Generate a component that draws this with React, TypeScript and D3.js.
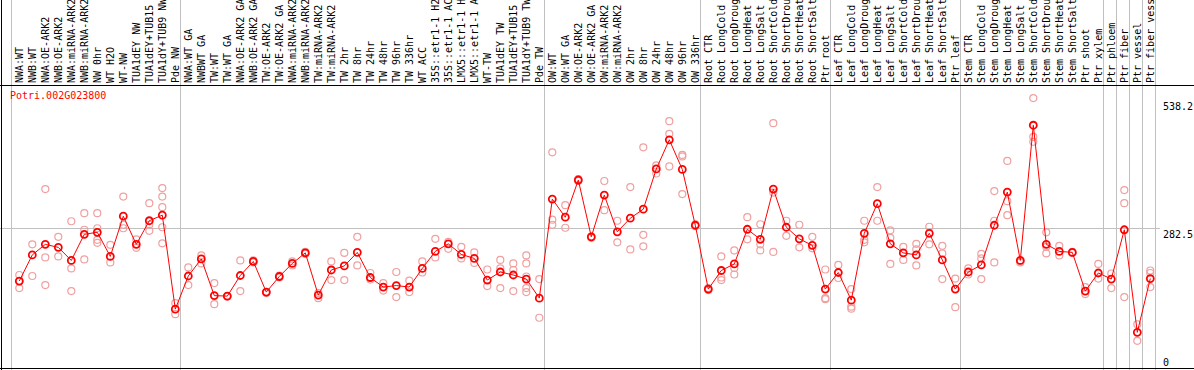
import React from "react";
import * as d3 from "d3";

const title = "Potri.002G023800";

const categories: string[] = [
  "NWA:WT", "NWB:WT", "NWA:OE-ARK2", "NWB:OE-ARK2", "NWA:miRNA-ARK2", "NWB:miRNA-ARK2",
  "NW 0hr", "WT H2O", "WT-NW", "TUA1dEY NW", "TUA1dEY+TUB15 NW", "TUA1dY+TUB9 NW", "Pde NW",
  "NWA:WT GA", "NWBWT GA", "TW:WT", "TW:WT GA", "NWA:OE-ARK2 GA", "NWB:OE-ARK2 GA",
  "TW:OE-ARK2", "TW:OE-ARK2 GA", "NWA:miRNA-ARK2 GA", "NWB:miRNA-ARK2 GA", "TW:miRNA-ARK2",
  "TW:miRNA-ARK2 GA", "TW 2hr", "TW 8hr", "TW 24hr", "TW 48hr", "TW 96hr", "TW 336hr", "WT ACC",
  "35S::etr1-1 H2O", "35S::etr1-1 ACC", "LMX5::etr1-1 H2O", "LMX5::etr1-1 ACC", "WT-TW",
  "TUA1dEY TW", "TUA1dEY+TUB15 TW", "TUA1dY+TUB9 TW", "Pde TW",
  "OW:WT", "OW:WT GA", "OW:OE-ARK2", "OW:OE-ARK2 GA", "OW:miRNA-ARK2", "OW:miRNA-ARK2 GA",
  "OW 2hr", "OW 8hr", "OW 24hr", "OW 48hr", "OW 96hr", "OW 336hr",
  "Root CTR", "Root LongCold", "Root LongDrought", "Root LongHeat", "Root LongSalt",
  "Root ShortCold", "Root ShortDrought", "Root ShortHeat", "Root ShortSalt", "Ptr root",
  "Leaf CTR", "Leaf LongCold", "Leaf LongDrought", "Leaf LongHeat", "Leaf LongSalt",
  "Leaf ShortCold", "Leaf ShortDrought", "Leaf ShortHeat", "Leaf ShortSalt", "Ptr leaf",
  "Stem CTR", "Stem LongCold", "Stem LongDrought", "Stem LongHeat", "Stem LongSalt",
  "Stem ShortCold", "Stem ShortDrought", "Stem ShortHeat", "Stem ShortSalt", "Ptr shoot",
  "Ptr xylem", "Ptr phloem", "Ptr fiber", "Ptr vessel", "Ptr fiber vessel",
];

// index of first category of each group (separator line drawn before it)
const groupStarts: number[] = [0, 13, 41, 53, 63, 73, 84, 85, 86, 87];

const means: number[] = [
  177, 229, 250, 244, 218, 270, 274, 226, 306, 250, 297, 308, 121,
  187, 221, 148, 147, 188, 216, 155, 186, 212, 233, 149, 199, 207, 234, 184, 165, 168, 165, 202,
  236, 251, 230, 222, 179, 195, 189, 181, 143,
  340, 304, 378, 265, 348, 275, 302, 320, 400, 458, 399, 288,
  161, 198, 211, 280, 260, 360, 284, 261, 248, 161,
  194, 139, 272, 331, 251, 233, 229, 272, 219, 161,
  195, 209, 288, 354, 218, 487, 250, 236, 234, 157, 193, 181, 279, 75, 182,
];

const replicates: number[][] = [
  [189, 163, 177], [250, 187], [360, 224, 169], [265, 226], [296, 202, 157], [312, 279, 220],
  [312, 282, 259, 253], [249, 214], [345, 289, 282], [260, 243], [332, 289, 277],
  [362, 345, 324, 284, 252], [133, 111],
  [204, 169], [228, 212], [173, 131], [147, 146], [218, 157], [218, 214], [155, 153], [188, 184],
  [216, 208], [235, 231], [153, 143], [216, 179], [233, 179], [265, 208], [193, 180], [173, 158],
  [195, 145], [178, 155], [216, 194], [261, 224], [255, 241], [245, 222], [234, 213], [200, 167],
  [219, 202, 163], [212, 199, 157], [228, 212, 186, 163, 155], [181, 104],
  [433, 299, 289], [328, 283], [380, 376], [265, 263], [376, 318], [297, 254], [364, 240],
  [443, 269, 246], [407, 391], [495, 470, 405], [428, 425, 350], [290, 286],
  [163, 159], [226, 184, 179], [238, 203, 190], [304, 260], [290, 250, 238], [491, 353, 235],
  [297, 267], [289, 244], [265, 242], [200, 143, 141],
  [209, 183], [161, 126, 122], [297, 259, 254], [364, 297], [278, 263, 211], [245, 219],
  [251, 240, 208], [285, 250], [247, 232, 181], [182, 125],
  [202, 190], [231, 222, 181], [356, 297, 214], [416, 336, 308], [214, 216], [541, 464, 454],
  [274, 245, 232], [247, 228], [235, 233], [165, 151], [211, 182], [192, 163], [358, 332, 145],
  [91, 58], [198, 193, 165],
];

const yTicks: { value: number; label: string }[] = [
  { value: 538.2, label: "538.2" },
  { value: 282.5, label: "282.5" },
  { value: 0, label: "0" },
];
const gridValue = 282.5;

const W = 1194;
const H = 370;
const FONT = "'DejaVu Sans Mono', monospace";

export default function App() {
  const x = d3.scaleLinear().domain([0, categories.length - 1]).range([19.3, 1150.3]);
  const y = d3.scaleLinear().domain([0, 538.2]).range([370, 99.5]);
  const line = d3
    .line<number>()
    .x((_, i) => x(i))
    .y((d) => y(d));

  const crisp = (v: number) => Math.round(v) + 0.5;
  const sepXs = groupStarts.map((i) => crisp(x(i) - 8.5));
  sepXs.push(crisp(x(categories.length - 1) + 5));

  return (
    <div style={{ position: "absolute", left: 0, top: 0 }}>
      <svg width={W} height={H} style={{ display: "block", background: "#fff" }}>
        {/* horizontal grid line */}
        <line x1={0} x2={1160} y1={crisp(y(gridValue))} y2={crisp(y(gridValue))}
          stroke="#c0c0c0" strokeWidth={1} shapeRendering="crispEdges" />
        {/* group separators */}
        {sepXs.map((sx, k) => (
          <line key={"s" + k} x1={sx} x2={sx} y1={0} y2={H} stroke="#c0c0c0"
            strokeWidth={1} shapeRendering="crispEdges" />
        ))}
        {/* frame */}
        <line x1={0} x2={W} y1={85.5} y2={85.5} stroke="#000" strokeWidth={1} shapeRendering="crispEdges" />
        <line x1={0} x2={W} y1={368.5} y2={368.5} stroke="#000" strokeWidth={1} shapeRendering="crispEdges" />
        <line x1={1.5} x2={1.5} y1={0} y2={H} stroke="#000" strokeWidth={1} shapeRendering="crispEdges" />

        {/* category labels */}
        {categories.map((c, i) => (
          <text key={"l" + i} transform={`translate(${x(i)},83) rotate(-90)`}
            dy="0.36em" fontFamily={FONT} fontSize={10} fill="#000">{c}</text>
        ))}

        {/* title */}
        <text x={10} y={99} fontFamily={FONT} fontSize={10} fill="#ff0000">{title}</text>

        {/* y tick labels */}
        {yTicks.map((t) => (
          <text key={t.label} x={1163}
            y={t.value === 0 ? 365.5 : y(t.value) + 10}
            fontFamily={FONT} fontSize={10} fill="#000">{t.label}</text>
        ))}

        {/* replicates */}
        {replicates.map((reps, i) =>
          reps.map((v, j) => (
            <circle key={`r${i}-${j}`} cx={x(i)} cy={y(v)} r={3.5} fill="none"
              stroke="#f0a0a0" strokeWidth={1.2} />
          ))
        )}

        {/* mean line */}
        <path d={line(means) || ""} fill="none" stroke="#ff0000" strokeWidth={1} />
        {means.map((v, i) => (
          <circle key={"m" + i} cx={x(i)} cy={y(v)} r={3.5} fill="none"
            stroke="#ff0000" strokeWidth={1.8} />
        ))}
      </svg>
    </div>
  );
}
